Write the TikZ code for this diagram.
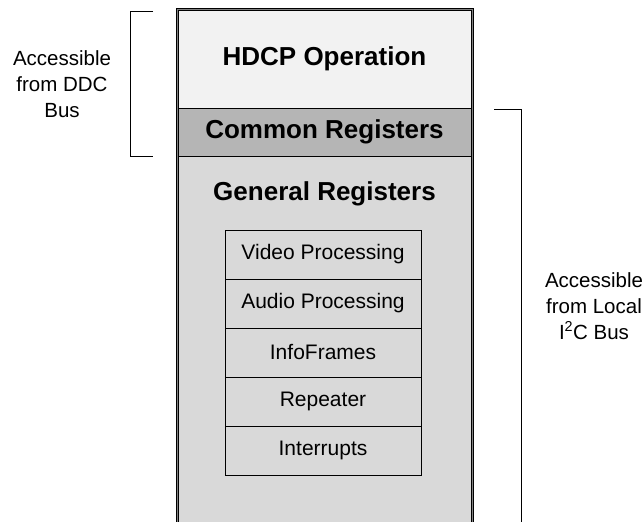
\documentclass[tikz,border=0pt]{standalone}
\usepackage{fontspec}
\setmainfont{Liberation Sans}
\usetikzlibrary{positioning}
\definecolor{hdcpfill}{HTML}{F2F2F2}
\definecolor{commonfill}{HTML}{B5B5B5}
\definecolor{genfill}{HTML}{D9D9D9}

\begin{document}
\begin{tikzpicture}[
        x=1pt, y=-1pt,
        section/.style={draw=black, line width=0.8pt, minimum width=295pt, inner sep=0pt, outer sep=0pt,
            font=\fontsize{26}{30}\selectfont\bfseries},
        regbox/.style={draw=black, line width=0.7pt, fill=genfill, minimum width=196pt, minimum height=49pt,
            inner sep=0pt, outer sep=0pt, font=\fontsize{21}{24}\selectfont},
        side label/.style={align=center, font=\fontsize{20.5}{26}\selectfont},
        bracket/.style={line width=1pt}
    ]
    \useasboundingbox (0,0) rectangle (643,522);
    \clip (0,0) rectangle (643,522);

    % register map
    \node[section, fill=hdcpfill, minimum height=99pt, anchor=north west] (hdcp) at (177,9) {HDCP Operation};
    \node[section, fill=commonfill, minimum height=48pt, below=0pt of hdcp] (common) {Common Registers};
    \node[section, fill=genfill, minimum height=390pt, below=0pt of common] (general) {};
    \node[font=\fontsize{26}{30}\selectfont\bfseries] (gentitle) at (324.5,194) {General Registers};
    \draw[line width=1pt, double=gray, double distance=1pt] (hdcp.north west) rectangle (general.south east);

    \node[regbox, anchor=north] (video) at (323,230) {Video Processing};
    \node[regbox, below=0pt of video] (audio) {Audio Processing};
    \node[regbox, below=0pt of audio] (info) {InfoFrames};
    \node[regbox, below=0pt of info] (repeater) {Repeater};
    \node[regbox, below=0pt of repeater] (irq) {Interrupts};

    % access brackets
    \coordinate (ltop) at (153,11);
    \coordinate (lbot) at (153,156);
    \draw[bracket] (ltop) -- ++(-23,0) |- (lbot);
    \node[side label] (ddc) at (62,84) {Accessible\\from DDC\\Bus};

    \coordinate (rtop) at (494,109);
    \coordinate (rbot) at (494,560);
    \draw[bracket] (rtop) -- ++(27,0) |- (rbot);
    \node[side label] (local) at (594,306) {Accessible\\from Local\\I\textsuperscript{2}C Bus};
\end{tikzpicture}
\end{document}
